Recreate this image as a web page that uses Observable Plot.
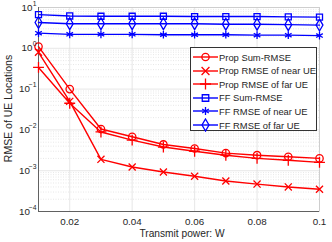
<!DOCTYPE html>
<html><head>
<meta charset="utf-8">
<script src="https://cdn.jsdelivr.net/npm/d3@7"></script>
<script src="https://cdn.jsdelivr.net/npm/@observablehq/plot@0.6"></script>
<style>
body{margin:0;background:#fff;}
#wrap{position:relative;width:332px;height:242px;font-family:"Liberation Sans",Arial,sans-serif;}
#legend{position:absolute;left:190px;top:47px;width:127px;height:84px;border:1px solid #333;background:#fff;box-sizing:border-box;}
.row{position:absolute;left:0;height:14px;font-size:9.4px;color:#262626;white-space:nowrap;}
.row svg{position:absolute;left:1px;top:0;}
.row span{position:absolute;left:28px;top:1.5px;}
</style>
</head><body><div id="wrap"><div id="legend"></div></div>
<script>
const power = [0.01,0.02,0.03,0.04,0.05,0.06,0.07,0.08,0.09,0.1];
const propSum  = [1.1, 0.1, 0.0105, 0.0068, 0.0044, 0.0035, 0.0027, 0.0024, 0.0022, 0.0020];
const propNear = [0.8, 0.05, 0.0019, 0.00123, 0.00093, 0.00073, 0.00056, 0.00047, 0.0004, 0.00035];
const propFar  = [0.34, 0.045, 0.0089, 0.0056, 0.0038, 0.0030, 0.0024, 0.0020, 0.0018, 0.0016];
const ffSum    = [6.7, 6.2, 6.1, 6.1, 6.1, 6.0, 6.0, 6.0, 5.9, 5.8];
const ffNear   = [2.35, 2.2, 2.2, 2.2, 2.15, 2.15, 2.15, 2.1, 2.1, 2.05];
const ffFar    = [4.3, 4.0, 4.0, 4.0, 4.0, 4.0, 3.9, 3.9, 3.8, 3.7];
const seriesNames = ["Prop Sum-RMSE","Prop RMSE of near UE","Prop RMSE of far UE","FF Sum-RMSE","FF RMSE of near UE","FF RMSE of far UE"];
const seriesValues = [propSum, propNear, propFar, ffSum, ffNear, ffFar];
const seriesColors = ["#ff0000","#ff0000","#ff0000","#0000ff","#0000ff","#0000ff"];
const seriesSymbols = ["circle","times","plus","square","asterisk","diamond"];
const xTicks = [0.02,0.04,0.06,0.08,0.1];
const xTickLabels = ["0.02","0.04","0.06","0.08","0.1"];
const yExponents = [1,0,-1,-2,-3,-4];

const majorY = yExponents.map(e => Math.pow(10, e));
const minorY = [];
for (const e of yExponents.slice(1)) for (let k = 2; k <= 9; k++) minorY.push(k * Math.pow(10, e));
const rows = [];
seriesNames.forEach((s, i) => power.forEach((p, j) => rows.push({series: s, x: p, y: seriesValues[i][j]})));
const expLabel = e => String(e).replace("-", "\u2212");
const ticksPos = yExponents.filter(e => e >= 0).map(e => ({v: Math.pow(10, e), e}));
const ticksNeg = yExponents.filter(e => e < 0).map(e => ({v: Math.pow(10, e), e}));
const textColor = "#262626";
const symR = {circle: 3.7, times: 3.3, plus: 3.6, square: 3.4, asterisk: 3.6, diamond: 3.6};

const marks = [
  Plot.ruleY(minorY, {stroke: "#d6d6d6", strokeWidth: 0.6, strokeDasharray: "1,1.5"}),
  Plot.ruleY(majorY, {stroke: "#dcdcdc", strokeWidth: 0.7}),
  Plot.ruleX(xTicks, {stroke: "#dcdcdc", strokeWidth: 0.7}),
  Plot.frame({stroke: "#c8c8c8", strokeWidth: 0.8}),
  Plot.ruleY([1e-4], {stroke: "#555", strokeWidth: 0.9}),
  Plot.ruleX([0.01], {stroke: "#555", strokeWidth: 0.9}),
];
seriesNames.forEach((s, i) => {
  const d = rows.filter(r => r.series === s);
  marks.push(Plot.line(d, {x: "x", y: "y", stroke: seriesColors[i], strokeWidth: 1.4}));
  marks.push(Plot.dot(d, {x: "x", y: "y", stroke: seriesColors[i], fill: "none", strokeWidth: 1.3, symbol: seriesSymbols[i], r: symR[seriesSymbols[i]]}));
});
marks.push(Plot.text(ticksPos, {y: "v", frameAnchor: "left", text: () => "10", textAnchor: "end", dx: -6, fontSize: 9.8, fill: textColor}));
marks.push(Plot.text(ticksNeg, {y: "v", frameAnchor: "left", text: () => "10", textAnchor: "end", dx: -8.5, fontSize: 9.8, fill: textColor}));
marks.push(Plot.text([...ticksPos, ...ticksNeg], {y: "v", frameAnchor: "left", text: d => expLabel(d.e), textAnchor: "end", dx: -2, dy: -4, fontSize: 6.8, fill: textColor}));
marks.push(Plot.text(xTicks, {x: d => d, frameAnchor: "bottom", text: (d, i) => xTickLabels[i], dy: 13.5, fontSize: 9.8, fill: textColor}));
marks.push(Plot.text(["Transmit power: W"], {frameAnchor: "bottom", dx: 3, dy: 25.5, fontSize: 10.2, fill: textColor}));
marks.push(Plot.text(["RMSE of UE Locations"], {frameAnchor: "left", textAnchor: "middle", lineAnchor: "bottom", dx: -27, dy: -1, rotate: -90, fontSize: 10.5, fill: textColor}));

const chart = Plot.plot({
  width: 332, height: 242,
  marginLeft: 38, marginRight: 13, marginTop: 7, marginBottom: 31,
  style: {fontFamily: "'Liberation Sans', Arial, sans-serif", background: "#fff", overflow: "visible"},
  x: {domain: [0.01, 0.1], axis: null},
  y: {type: "log", domain: [1e-4, 10], axis: null},
  marks
});
document.getElementById("wrap").prepend(chart);

const legend = d3.select("#legend");
const symMap = {circle: d3.symbolCircle, times: d3.symbolTimes, plus: d3.symbolPlus, square: d3.symbolSquare, asterisk: d3.symbolAsterisk, diamond: d3.symbolDiamond};
seriesNames.forEach((s, i) => {
  const row = legend.append("div").attr("class", "row").style("top", (2 + i * 13.6) + "px").style("width", "124px");
  const svg = row.append("svg").attr("width", 28).attr("height", 14);
  svg.append("line").attr("x1", 1).attr("x2", 26).attr("y1", 7).attr("y2", 7).attr("stroke", seriesColors[i]).attr("stroke-width", 1.4);
  svg.append("path").attr("transform", "translate(13.5,7)").attr("d", d3.symbol(symMap[seriesSymbols[i]], 42)()).attr("fill", "none").attr("stroke", seriesColors[i]).attr("stroke-width", 1.3);
  row.append("span").text(s);
});
</script>
</body></html>
